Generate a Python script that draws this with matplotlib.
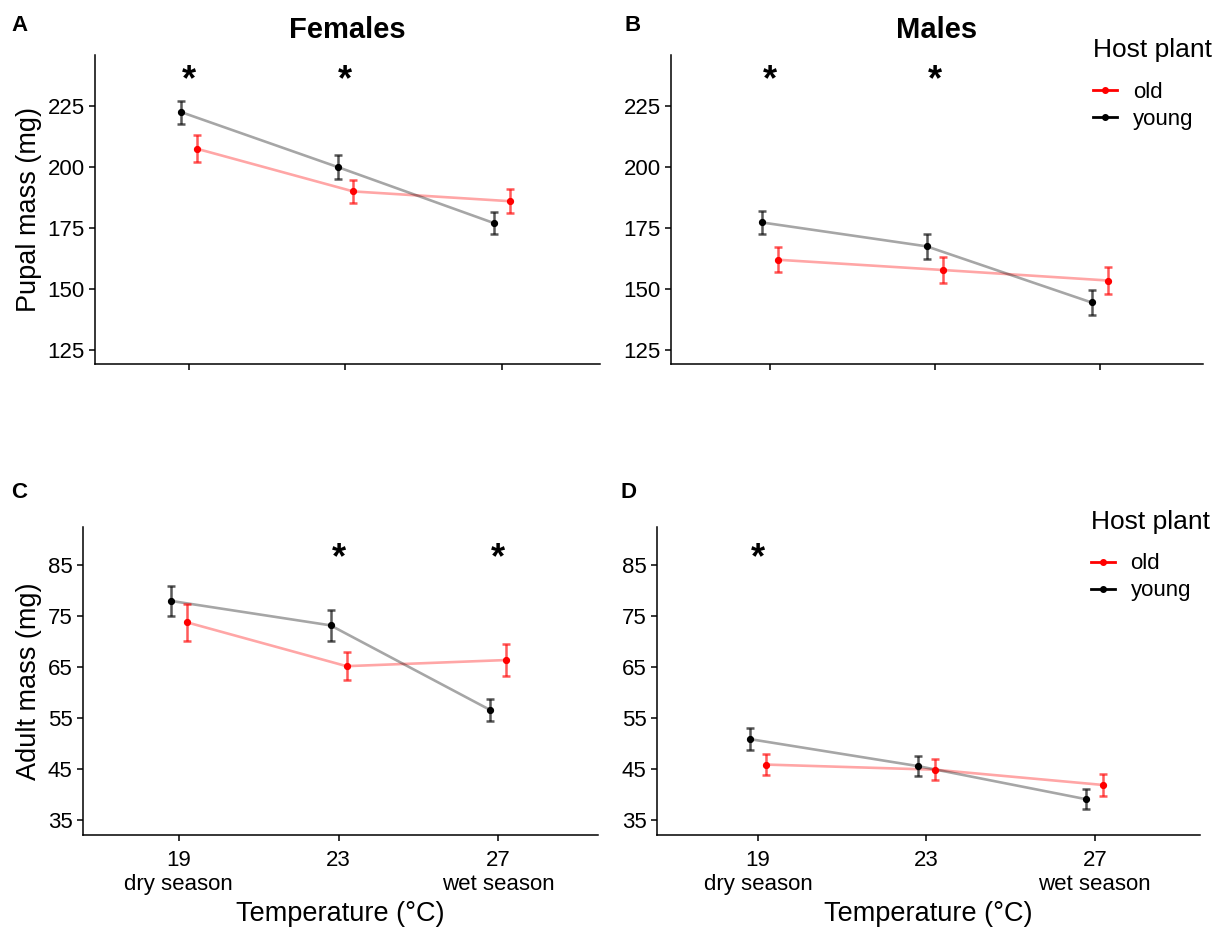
import matplotlib
matplotlib.use('Agg')
import matplotlib.pyplot as plt
from matplotlib.lines import Line2D

plt.rcParams['font.family'] = ['Liberation Sans', 'DejaVu Sans']

# Datos (media y semi-amplitud de la barra de error)
temps = [19, 23, 27]
temp_labels = ['19\ndry season', '23', '27\nwet season']

fem_pupal_young = [222.5, 200.0, 177.0]
fem_pupal_young_err = [4.7, 4.8, 4.5]
fem_pupal_old = [207.5, 190.0, 186.0]
fem_pupal_old_err = [5.5, 4.8, 5.0]

mal_pupal_young = [177.3, 167.5, 144.5]
mal_pupal_young_err = [4.8, 5.2, 5.3]
mal_pupal_old = [162.0, 157.8, 153.5]
mal_pupal_old_err = [5.2, 5.2, 5.6]

fem_adult_young = [78.0, 73.2, 56.6]
fem_adult_young_err = [3.0, 3.0, 2.2]
fem_adult_old = [73.8, 65.2, 66.4]
fem_adult_old_err = [3.6, 2.8, 3.2]

mal_adult_young = [50.9, 45.6, 39.1]
mal_adult_young_err = [2.1, 2.0, 2.0]
mal_adult_old = [45.9, 44.9, 41.9]
mal_adult_old_err = [2.1, 2.0, 2.2]

# temperaturas con diferencia significativa
stars_a = [19, 23]
stars_b = [19, 23]
stars_c = [23, 27]
stars_d = [19]

pupal_ticks = [125, 150, 175, 200, 225]
adult_ticks = [35, 45, 55, 65, 75, 85]

dodge = 0.2


def panel(ax, young, young_err, old, old_err, ylim, yticks, stars, star_y):
    xy = [t - dodge for t in temps]
    xo = [t + dodge for t in temps]
    ax.plot(xo, old, color='red', alpha=0.35, lw=1.9, zorder=1)
    ax.plot(xy, young, color='black', alpha=0.35, lw=1.9, zorder=1)
    ax.errorbar(xo, old, yerr=old_err, fmt='none', ecolor='red', alpha=0.65,
                elinewidth=1.8, capsize=3.2, capthick=1.8, zorder=2)
    ax.errorbar(xy, young, yerr=young_err, fmt='none', ecolor='black', alpha=0.65,
                elinewidth=1.8, capsize=3.2, capthick=1.8, zorder=2)
    ax.plot(xo, old, 'o', color='red', ms=4.2, zorder=3)
    ax.plot(xy, young, 'o', color='black', ms=4.2, zorder=3)
    for s in stars:
        ax.text(s, star_y, '*', ha='center', va='center', fontsize=26,
                fontweight='bold')
    ax.set_xlim(16.6, 29.5)
    ax.set_ylim(ylim)
    ax.set_yticks(yticks)
    ax.set_xticks(temps)
    ax.spines['top'].set_visible(False)
    ax.spines['right'].set_visible(False)
    ax.spines['left'].set_linewidth(1.1)
    ax.spines['bottom'].set_linewidth(1.1)
    ax.tick_params(axis='both', length=4, width=1.1, labelsize=16,
                   colors='black')
    ax.tick_params(axis='x', pad=7)


def leyenda(ax, x, y, y_titulo):
    # titulo aparte para poder separar mas las entradas
    fig.text(x, y_titulo, 'Host plant', fontsize=19, va='center', ha='left')
    h = [Line2D([0], [0], color='red', lw=2, marker='o', ms=4),
         Line2D([0], [0], color='black', lw=2, marker='o', ms=4)]
    leg = ax.legend(h, ['old', 'young'], loc='upper left',
                    bbox_to_anchor=(x, y), bbox_transform=fig.transFigure,
                    frameon=False, fontsize=16,
                    handlelength=1.1, handletextpad=0.7,
                    labelspacing=0.27, borderaxespad=0, borderpad=0)
    return leg


fig = plt.figure(figsize=(12.24, 9.30), dpi=100)

ax_a = fig.add_axes([0.0776, 0.6086, 0.4124, 0.3323])
ax_b = fig.add_axes([0.5482, 0.6086, 0.4346, 0.3323])
ax_c = fig.add_axes([0.0678, 0.1022, 0.4208, 0.3312])
ax_d = fig.add_axes([0.5368, 0.1022, 0.4436, 0.3312])

panel(ax_a, fem_pupal_young, fem_pupal_young_err, fem_pupal_old, fem_pupal_old_err,
      (119.3, 245.9), pupal_ticks, stars_a, 235.5)
panel(ax_b, mal_pupal_young, mal_pupal_young_err, mal_pupal_old, mal_pupal_old_err,
      (119.3, 245.9), pupal_ticks, stars_b, 235.5)
panel(ax_c, fem_adult_young, fem_adult_young_err, fem_adult_old, fem_adult_old_err,
      (32.1, 92.5), adult_ticks, stars_c, 86.3)
panel(ax_d, mal_adult_young, mal_adult_young_err, mal_adult_old, mal_adult_old_err,
      (32.1, 92.5), adult_ticks, stars_d, 86.3)

ax_a.set_xticklabels([])
ax_b.set_xticklabels([])
ax_c.set_xticklabels(temp_labels, linespacing=1.2)
ax_d.set_xticklabels(temp_labels, linespacing=1.2)

ax_a.set_ylabel('Pupal mass (mg)', fontsize=19.5, labelpad=4)
ax_c.set_ylabel('Adult mass (mg)', fontsize=19.5, labelpad=4)
ax_c.set_xlabel('Temperature (°C)', fontsize=19.5, labelpad=4)
ax_d.set_xlabel('Temperature (°C)', fontsize=19.5, labelpad=4)

ax_a.set_title('Females', fontsize=21, fontweight='bold', pad=12)
ax_b.set_title('Males', fontsize=21, fontweight='bold', pad=12)

# letras de los paneles
fig.text(0.009, 0.973, 'A', fontsize=16, fontweight='bold', va='center')
fig.text(0.510, 0.973, 'B', fontsize=16, fontweight='bold', va='center')
fig.text(0.009, 0.470, 'C', fontsize=16, fontweight='bold', va='center')
fig.text(0.507, 0.470, 'D', fontsize=16, fontweight='bold', va='center')

leyenda(ax_b, 0.893, 0.912, 0.946)
leyenda(ax_d, 0.891, 0.405, 0.439)

fig.savefig('out.png', dpi=100)
